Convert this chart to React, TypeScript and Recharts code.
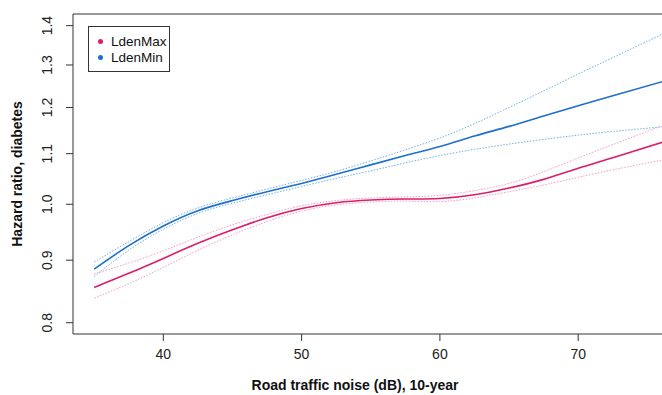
import React from 'react';
import { LineChart, Line, XAxis, YAxis, ReferenceLine } from 'recharts';

const NOISE = [35, 37.5, 40, 42.5, 45, 47.5, 50, 52.5, 55, 57.5, 60, 62.5, 65, 67.5, 70, 72.5, 76.1];

// LdenMin: hazard ratio with 95% CI
const MIN_HR = [0.885, 0.925, 0.96, 0.988, 1.007, 1.024, 1.04, 1.058, 1.077, 1.096, 1.115, 1.137, 1.158, 1.181, 1.204, 1.227, 1.26];
const MIN_HI = [0.897, 0.932, 0.966, 0.993, 1.012, 1.029, 1.046, 1.064, 1.085, 1.108, 1.133, 1.164, 1.2, 1.238, 1.278, 1.318, 1.378];
const MIN_LO = [0.873, 0.917, 0.954, 0.983, 1.002, 1.018, 1.034, 1.05, 1.065, 1.081, 1.096, 1.109, 1.12, 1.13, 1.139, 1.147, 1.157];

// LdenMax: hazard ratio with 95% CI
const MAX_HR = [0.855, 0.878, 0.903, 0.929, 0.953, 0.975, 0.992, 1.003, 1.008, 1.01, 1.011, 1.018, 1.031, 1.048, 1.07, 1.0915, 1.124];
const MAX_HI = [0.877, 0.895, 0.916, 0.94, 0.962, 0.981, 0.997, 1.007, 1.012, 1.014, 1.017, 1.026, 1.04, 1.063, 1.091, 1.119, 1.16];
const MAX_LO = [0.838, 0.861, 0.888, 0.917, 0.944, 0.968, 0.987, 0.999, 1.004, 1.006, 1.005, 1.012, 1.024, 1.037, 1.052, 1.067, 1.087];

const SERIES = [
  { name: 'LdenMax', color: '#dc1c6c' },
  { name: 'LdenMin', color: '#1d6fcf' },
];

const X_TICKS = [40, 50, 60, 70];
const Y_TICKS = [0.8, 0.9, 1.0, 1.1, 1.2, 1.3, 1.4];
const X_DOMAIN = [33.47, 76.06];
const Y_DOMAIN = [0.7832, 1.431];

const PINK = '#dc1c6c';
const PINK_CI = '#f49cc1';
const BLUE = '#1d6fcf';
const BLUE_CI = '#6fb0f0';
const AXIS = '#333';
const FONT = '"Liberation Sans", Arial, sans-serif';

const data = NOISE.map((x, i) => ({
  x,
  minHr: MIN_HR[i],
  minHi: MIN_HI[i],
  minLo: MIN_LO[i],
  maxHr: MAX_HR[i],
  maxHi: MAX_HI[i],
  maxLo: MAX_LO[i],
}));

const YTick = (props: any) => {
  const { x, y, payload } = props;
  return (
    <text
      x={x - 12}
      y={y}
      transform={`rotate(-90, ${x - 12}, ${y})`}
      textAnchor="middle"
      fill="#222"
      fontSize={14}
      fontFamily={FONT}
    >
      {payload.value.toFixed(1)}
    </text>
  );
};

const LegendBox = () => (
  <div
    style={{
      position: 'absolute',
      left: 88,
      top: 26,
      width: 82,
      height: 46,
      boxSizing: 'border-box',
      border: '1.2px solid #333',
      background: '#fff',
      padding: '7px 0 0 8px',
      fontFamily: FONT,
      fontSize: 13.5,
      lineHeight: '15.5px',
      color: '#111',
    }}
  >
    {SERIES.map((s) => (
      <div key={s.name} style={{ display: 'flex', alignItems: 'center' }}>
        <span
          style={{ width: 5, height: 5, borderRadius: 3, background: s.color, display: 'inline-block', marginRight: 8, marginLeft: 1 }}
        />
        {s.name}
      </div>
    ))}
  </div>
);

export default function App() {
  return (
    <div style={{ position: 'absolute', left: 0, top: 0, width: 662, height: 395, overflow: 'hidden', background: '#fff' }}>
      <LineChart width={662} height={395} data={data} margin={{ top: 14, right: 0, left: 0, bottom: 0 }}>
        <XAxis
          dataKey="x"
          type="number"
          domain={X_DOMAIN}
          ticks={X_TICKS}
          allowDataOverflow
          height={61}
          stroke={AXIS}
          tickLine={{ stroke: AXIS }}
          tickSize={7}
          tick={{ fill: '#222', fontSize: 14, fontFamily: FONT, dy: 6 }}
          label={() => (
            <text x={355} y={390} textAnchor="middle" fontSize={14} fontWeight="bold" fontFamily={FONT} fill="#111">
              Road traffic noise (dB), 10-year
            </text>
          )}
        />
        <YAxis
          type="number"
          scale="log"
          domain={Y_DOMAIN}
          ticks={Y_TICKS}
          allowDataOverflow
          width={73}
          stroke={AXIS}
          tickLine={{ stroke: AXIS }}
          tickSize={7}
          tick={<YTick />}
          label={() => (
            <text
              x={22}
              y={174}
              transform="rotate(-90, 22, 174)"
              textAnchor="middle"
              fontSize={14}
              fontWeight="bold"
              fontFamily={FONT}
              fill="#111"
            >
              Hazard ratio, diabetes
            </text>
          )}
        />
        <ReferenceLine y={Y_DOMAIN[1]} stroke={AXIS} strokeWidth={1.2} />
        <Line type="natural" dataKey="minHi" stroke={BLUE_CI} strokeWidth={1} strokeDasharray="1.5 1.5" dot={false} isAnimationActive={false} />
        <Line type="natural" dataKey="minLo" stroke={BLUE_CI} strokeWidth={1} strokeDasharray="1.5 1.5" dot={false} isAnimationActive={false} />
        <Line type="natural" dataKey="maxHi" stroke={PINK_CI} strokeWidth={1} strokeDasharray="1.5 1.5" dot={false} isAnimationActive={false} />
        <Line type="natural" dataKey="maxLo" stroke={PINK_CI} strokeWidth={1} strokeDasharray="1.5 1.5" dot={false} isAnimationActive={false} />
        <Line type="natural" dataKey="minHr" name="LdenMin" stroke={BLUE} strokeWidth={1.6} dot={false} isAnimationActive={false} />
        <Line type="natural" dataKey="maxHr" name="LdenMax" stroke={PINK} strokeWidth={1.6} dot={false} isAnimationActive={false} />
      </LineChart>
      <LegendBox />
    </div>
  );
}
